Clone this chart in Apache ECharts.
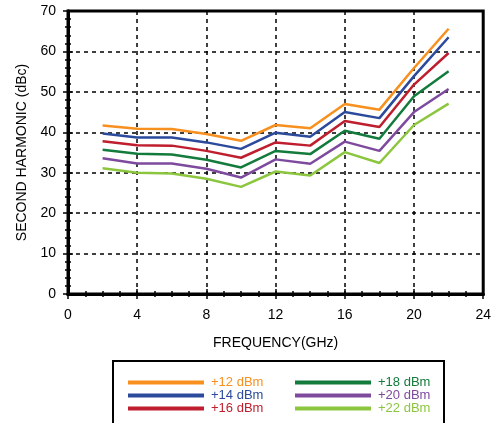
<!DOCTYPE html>
<html>
<head>
<meta charset="utf-8">
<script src="https://cdn.jsdelivr.net/npm/echarts@6/dist/echarts.min.js"></script>
<style>
html,body{margin:0;padding:0;background:#fff;}
#chart{width:494px;height:423px;}
</style>
</head>
<body>
<div id="chart"></div>
<script>
const frequencies = [2, 4, 6, 8, 10, 12, 14, 16, 18, 20, 22];
const dBm12 = [41.7, 40.9, 40.8, 39.6, 37.9, 41.8, 41.0, 47.0, 45.6, 55.9, 65.6];
const dBm14 = [39.7, 38.7, 38.7, 37.5, 35.9, 39.9, 38.9, 45.0, 43.5, 53.9, 63.5];
const dBm16 = [37.8, 36.8, 36.7, 35.4, 33.7, 37.5, 36.7, 42.8, 41.3, 51.8, 59.6];
const dBm18 = [35.7, 34.7, 34.5, 33.2, 31.3, 35.4, 34.6, 40.4, 38.4, 48.9, 55.1];
const dBm20 = [33.6, 32.3, 32.3, 31.0, 28.8, 33.3, 32.2, 37.7, 35.4, 45.0, 50.7];
const dBm22 = [31.1, 30.0, 29.8, 28.5, 26.5, 30.3, 29.3, 35.1, 32.4, 41.8, 47.1];
const seriesNames = ['+12 dBm', '+14 dBm', '+16 dBm', '+18 dBm', '+20 dBm', '+22 dBm'];
const seriesColors = ['#F7901E', '#2B4A9C', '#BE1E2D', '#137B3B', '#7E4A9E', '#8CC63F'];
const seriesValues = [dBm12, dBm14, dBm16, dBm18, dBm20, dBm22];

const FONT = 'Liberation Sans, Arial, Helvetica, sans-serif';
const chart = echarts.init(document.getElementById('chart'), null, {renderer: 'canvas'});

const series = seriesNames.map((n, i) => ({
  name: n,
  type: 'line',
  xAxisIndex: 0,
  yAxisIndex: 0,
  data: frequencies.map((f, j) => [f, seriesValues[i][j]]),
  showSymbol: false,
  symbol: 'none',
  lineStyle: {color: seriesColors[i], width: 2.5},
  itemStyle: {color: seriesColors[i]},
  z: 3
}));

function legendCfg(idx, left) {
  return {
    orient: 'vertical',
    left: left,
    top: 376,
    padding: 0,
    itemGap: 0,
    itemWidth: 76,
    itemHeight: 4,
    icon: 'rect',
    selectedMode: false,
    textStyle: {fontFamily: FONT, fontSize: 13, lineHeight: 12, padding: [0, 0, 0, 2]},
    data: idx.map(i => ({name: seriesNames[i], textStyle: {color: seriesColors[i]}}))
  };
}

const gridLine = {show: true, lineStyle: {color: '#000', type: [4, 4], width: 1.5}};

chart.setOption({
  animation: false,
  backgroundColor: '#fff',
  grid: {left: 68, right: 10, top: 11, bottom: 129, show: true, borderColor: '#000', borderWidth: 3, backgroundColor: 'transparent'},
  legend: [legendCfg([0, 1, 2], 128), legendCfg([3, 4, 5], 295)],
  xAxis: [{
    type: 'value', min: 0, max: 24, interval: 4, position: 'bottom',
    name: 'FREQUENCY(GHz)', nameLocation: 'middle', nameGap: 42,
    nameTextStyle: {fontFamily: FONT, fontSize: 14, color: '#000'},
    axisLine: {show: true, lineStyle: {color: '#000', width: 3}},
    axisTick: {show: true, inside: true, length: 5, lineStyle: {color: '#000', width: 1.5}},
    minorTick: {show: true, splitNumber: 4, length: 3, lineStyle: {color: '#000', width: 1.5}},
    axisLabel: {fontFamily: FONT, fontSize: 14, color: '#000', margin: 14},
    splitLine: gridLine
  }, {
    type: 'value', min: 0, max: 24, interval: 4, position: 'top',
    axisLine: {show: true, lineStyle: {color: '#000', width: 3}},
    axisTick: {show: true, inside: true, length: 5, lineStyle: {color: '#000', width: 1.5}},
    minorTick: {show: true, splitNumber: 4, length: 3, lineStyle: {color: '#000', width: 1.5}},
    axisLabel: {show: false}, splitLine: {show: false}
  }],
  yAxis: [{
    type: 'value', min: 0, max: 70, interval: 10, position: 'left',
    name: 'SECOND HARMONIC (dBc)', nameLocation: 'middle', nameGap: 37,
    nameTextStyle: {fontFamily: FONT, fontSize: 14, color: '#000'},
    axisLine: {show: true, lineStyle: {color: '#000', width: 3}},
    axisTick: {show: true, inside: true, length: 5, lineStyle: {color: '#000', width: 1.5}},
    minorTick: {show: true, splitNumber: 5, length: 3, lineStyle: {color: '#000', width: 1.5}},
    axisLabel: {fontFamily: FONT, fontSize: 14, color: '#000', margin: 12},
    splitLine: gridLine
  }, {
    type: 'value', min: 0, max: 70, interval: 10, position: 'right',
    axisLine: {show: true, lineStyle: {color: '#000', width: 3}},
    axisTick: {show: true, inside: true, length: 5, lineStyle: {color: '#000', width: 1.5}},
    minorTick: {show: true, splitNumber: 5, length: 3, lineStyle: {color: '#000', width: 1.5}},
    axisLabel: {show: false}, splitLine: {show: false}
  }],
  graphic: [{
    type: 'rect', left: 112, top: 360, z: 0,
    shape: {width: 331, height: 80},
    style: {fill: 'transparent', stroke: '#000', lineWidth: 2}
  }],
  series: series
});
</script>
</body>
</html>
